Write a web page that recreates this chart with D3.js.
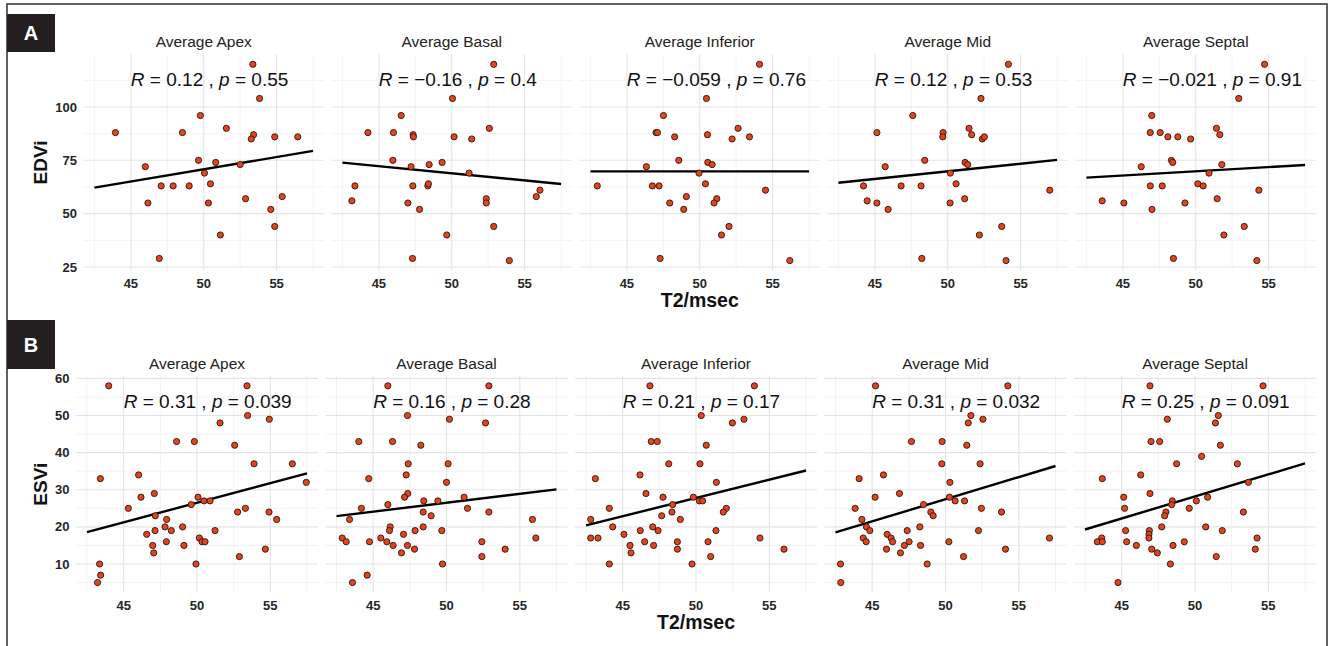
<!DOCTYPE html>
<html>
<head>
<meta charset="utf-8">
<script src="https://cdn.jsdelivr.net/npm/d3@7/dist/d3.min.js"></script>
<style>
  html, body { margin: 0; padding: 0; background: #fff; }
  svg { display: block; font-family: "Liberation Sans", Arial, Helvetica, sans-serif; }
</style>
</head>
<body>
<svg id="chart" width="1332" height="646"></svg>
<script>
// ---------------- data ----------------
const panelNames = ["Average Apex", "Average Basal", "Average Inferior", "Average Mid", "Average Septal"];
const xTicks = [45, 50, 55];
const xMinorTicks = [42.5, 47.5, 52.5, 57.5];
const xLimits = [42.5, 57.5];
const xTitle = "T2/msec";

const edviTicks = [25, 50, 75, 100];
const edviMinorTicks = [37.5, 62.5, 87.5, 112.5];
const edviLimits = [28, 120];
const esviTicks = [10, 20, 30, 40, 50, 60];
const esviMinorTicks = [5, 15, 25, 35, 45, 55];
const esviLimits = [5, 58];

// EDVi vs T2 (row A): [T2, EDVi]
const edviApex = [[53.37,120],[53.83,104],[49.77,96],[51.55,90],[43.94,88],[48.54,88],[53.42,87],[53.26,85],[54.87,86],[56.45,86],[49.64,75],[50.82,74],[45.99,72],[52.5,73],[50.05,69],[50.46,64],[47.08,63],[47.9,63],[49.0,63],[46.17,55],[50.32,55],[52.87,57],[55.38,58],[54.6,52],[54.87,44],[51.14,40],[46.95,29]];
const edviBasal = [[52.88,120],[50.05,104],[46.53,96],[52.58,90],[44.25,88],[46.0,88],[47.35,87],[47.37,86],[50.16,86],[51.37,85],[45.96,75],[47.21,72],[48.45,73],[49.34,74],[51.19,69],[43.36,63],[47.33,63],[48.36,63],[48.4,64],[43.15,56],[46.99,55],[52.37,57],[52.37,55],[47.79,52],[56.05,61],[55.8,58],[52.88,44],[49.66,40],[47.31,29],[53.95,28]];
const edviInferior = [[54.1,120],[50.46,104],[47.51,96],[52.63,90],[47.0,88],[47.1,88],[48.28,86],[50.53,87],[52.22,85],[53.41,86],[48.56,75],[46.34,72],[50.55,74],[50.85,73],[49.95,69],[42.97,63],[46.75,63],[47.21,63],[50.39,64],[54.51,61],[49.08,58],[47.94,55],[51.17,57],[50.98,55],[48.9,52],[52.01,44],[51.49,40],[47.28,29],[56.18,28]];
const edviMid = [[54.16,120],[52.28,104],[47.6,96],[51.46,90],[45.14,88],[49.68,88],[49.66,86],[51.64,87],[52.37,85],[52.51,86],[48.42,75],[45.71,72],[51.19,74],[51.37,73],[50.18,69],[44.22,63],[46.8,63],[48.17,63],[50.57,64],[57.0,61],[44.47,56],[45.14,55],[50.16,55],[51.16,57],[45.91,52],[53.7,44],[52.17,40],[48.22,29],[54.0,28]];
const edviSeptal = [[54.72,120],[52.95,104],[46.98,96],[51.42,90],[46.88,88],[47.56,88],[48.09,86],[48.77,86],[49.65,85],[51.65,87],[48.33,75],[48.42,74],[46.26,72],[51.79,73],[50.91,69],[46.88,63],[47.7,63],[50.14,64],[50.51,63],[54.33,61],[43.58,56],[45.07,55],[49.26,55],[51.47,57],[47.0,52],[53.33,44],[51.93,40],[48.47,29],[54.19,28]];

// ESVi vs T2 (row B): [T2, ESVi]
const esviApex = [[43.98,58],[53.41,58],[53.45,50],[54.93,49],[51.57,48],[48.61,43],[49.82,43],[52.57,42],[53.89,37],[56.5,37],[46.02,34],[43.41,33],[57.45,32],[47.09,29],[46.18,28],[50.07,28],[49.61,26],[50.48,27],[50.89,27],[45.32,25],[52.77,24],[53.3,25],[54.91,24],[47.16,23],[47.93,22],[55.43,22],[47.82,20],[49.02,20],[46.57,18],[47.14,19],[48.25,19],[51.23,19],[46.98,15],[47.91,16],[49.11,15],[50.16,17],[50.34,16],[50.55,16],[47.05,13],[52.89,12],[54.66,14],[49.93,10],[43.36,10],[43.43,7],[43.22,5]];
const esviBasal = [[46.0,58],[52.89,58],[47.34,50],[50.2,49],[52.66,48],[44.02,43],[46.32,43],[48.25,42],[47.39,37],[50.11,37],[47.25,34],[44.7,33],[50.0,32],[47.36,29],[47.14,28],[51.2,28],[46.0,26],[48.45,27],[49.41,27],[44.2,25],[51.43,25],[48.41,24],[52.89,24],[48.95,23],[43.39,22],[55.86,22],[46.16,20],[48.41,20],[46.11,19],[47.86,19],[49.68,19],[47.07,18],[42.89,17],[45.52,17],[56.09,17],[43.16,16],[44.75,16],[45.93,16],[52.41,16],[46.36,15],[47.34,15],[47.82,14],[54.0,14],[46.93,13],[52.41,12],[49.73,10],[44.59,7],[43.59,5]];
const esviInferior = [[46.86,58],[53.98,58],[50.36,50],[53.27,49],[52.48,48],[46.95,43],[47.36,43],[50.7,42],[48.14,37],[50.27,37],[46.18,34],[43.14,33],[51.39,32],[46.59,29],[47.75,28],[49.82,28],[48.41,26],[50.23,27],[50.45,27],[44.09,25],[52.07,25],[48.36,24],[51.86,24],[47.66,23],[42.82,22],[48.93,22],[44.32,20],[47.05,20],[46.2,19],[47.41,19],[51.36,19],[45.09,18],[42.82,17],[43.32,17],[54.36,17],[46.5,16],[48.73,16],[50.82,16],[45.5,15],[47.11,15],[48.73,14],[56.0,14],[45.57,13],[51.0,12],[44.09,10],[49.73,10]];
const esviMid = [[45.23,58],[54.25,58],[51.73,50],[52.55,49],[51.55,48],[47.68,43],[49.77,43],[51.45,42],[49.75,37],[52.36,37],[45.77,34],[44.11,33],[50.3,32],[46.86,29],[45.2,28],[50.27,28],[48.5,26],[50.66,27],[51.3,27],[43.84,25],[52.45,25],[49.0,24],[53.82,24],[49.16,23],[44.3,22],[44.61,20],[48.25,20],[44.84,19],[47.39,19],[52.25,19],[46.02,18],[44.39,17],[46.29,17],[57.09,17],[44.59,16],[46.39,16],[47.52,16],[50.23,16],[47.2,15],[48.3,15],[45.98,14],[54.09,14],[46.93,13],[51.23,12],[42.84,10],[48.75,10],[42.86,5]];
const esviSeptal = [[46.93,58],[54.64,58],[51.59,50],[48.11,49],[51.39,48],[47.0,43],[47.59,43],[51.73,42],[50.45,39],[48.75,37],[52.89,37],[46.3,34],[43.68,33],[53.64,32],[46.93,29],[45.14,28],[50.86,28],[48.45,27],[50.09,27],[48.41,26],[45.2,25],[49.61,25],[48.02,24],[53.3,24],[47.93,23],[47.73,20],[50.73,20],[45.27,19],[46.89,19],[51.86,19],[46.86,18],[43.64,17],[46.86,17],[54.23,17],[43.34,16],[43.68,16],[45.34,16],[49.27,16],[46.0,15],[48.5,15],[47.05,14],[54.11,14],[47.43,13],[51.45,12],[48.32,10],[44.75,5]];

// fitted regression values at xLimits[0] and xLimits[1]
const edviFit = [[62.2, 79.4], [73.9, 63.9], [69.8, 69.8], [64.5, 75.2], [66.9, 72.8]];
const esviFit = [[18.6, 34.4], [22.9, 30.1], [20.4, 35.2], [18.5, 36.4], [19.3, 37.1]];

const edviR = ["0.12", "\u22120.16", "\u22120.059", "0.12", "\u22120.021"];
const edviP = ["0.55", "0.4", "0.76", "0.53", "0.91"];
const esviR = ["0.31", "0.16", "0.21", "0.31", "0.25"];
const esviP = ["0.039", "0.28", "0.17", "0.032", "0.091"];

// ---------------- drawing ----------------
const svg = d3.select("#chart");

function expand(lim, f) {
  const d = (lim[1] - lim[0]) * f;
  return [lim[0] - d, lim[1] + d];
}

// outer frame
svg.append("rect")
  .attr("x", 7).attr("y", 4).attr("width", 1320).attr("height", 700)
  .attr("fill", "none").attr("stroke", "#3a3a3a").attr("stroke-width", 1.6);

function drawRow(cfg) {
  const g = svg.append("g");
  const xDom = expand(xLimits, 0.05);
  const yDom = expand(cfg.yLimits, 0.05);
  const y = d3.scaleLinear().domain(yDom).range([cfg.bottom, cfg.top]);

  cfg.data.forEach((pts, i) => {
    const left = cfg.left0 + i * cfg.step;
    const x = d3.scaleLinear().domain(xDom).range([left, left + cfg.width]);
    const p = g.append("g");

    // minor grid
    p.selectAll(".hminor").data(cfg.yMinor.filter(v => v >= yDom[0] && v <= yDom[1])).join("line")
      .attr("x1", left).attr("x2", left + cfg.width)
      .attr("y1", d => y(d)).attr("y2", d => y(d))
      .attr("stroke", "#f0f0f0").attr("stroke-width", 0.8);
    p.selectAll(".vminor").data(xMinorTicks).join("line")
      .attr("y1", cfg.top).attr("y2", cfg.bottom)
      .attr("x1", d => x(d)).attr("x2", d => x(d))
      .attr("stroke", "#f0f0f0").attr("stroke-width", 0.8);
    // major grid
    p.selectAll(".hmajor").data(cfg.yTicks).join("line")
      .attr("x1", left).attr("x2", left + cfg.width)
      .attr("y1", d => y(d)).attr("y2", d => y(d))
      .attr("stroke", "#e4e4e4").attr("stroke-width", 1.1);
    p.selectAll(".vmajor").data(xTicks).join("line")
      .attr("y1", cfg.top).attr("y2", cfg.bottom)
      .attr("x1", d => x(d)).attr("x2", d => x(d))
      .attr("stroke", "#e4e4e4").attr("stroke-width", 1.1);

    // regression line
    const fit = cfg.fits[i];
    p.append("line")
      .attr("x1", x(xLimits[0])).attr("y1", y(fit[0]))
      .attr("x2", x(xLimits[1])).attr("y2", y(fit[1]))
      .attr("stroke", "#000").attr("stroke-width", 2.4);

    // points
    p.selectAll("circle").data(pts).join("circle")
      .attr("cx", d => x(d[0])).attr("cy", d => y(d[1]))
      .attr("r", 3.1)
      .attr("fill", "#e3441d").attr("stroke", "#2b1610").attr("stroke-width", 0.9);

    // strip title
    p.append("text")
      .attr("x", left + cfg.width / 2).attr("y", cfg.top - 7.5)
      .attr("text-anchor", "middle").attr("font-size", 15.5).attr("fill", "#222")
      .text(panelNames[i]);

    // stat label
    const t = p.append("text")
      .attr("x", x(45)).attr("y", cfg.top + 31.5)
      .attr("font-size", 19).attr("fill", "#111");
    t.append("tspan").attr("font-style", "italic").text("R");
    t.append("tspan").text(" = " + cfg.r[i] + " , ");
    t.append("tspan").attr("font-style", "italic").text("p");
    t.append("tspan").text(" = " + cfg.p[i]);

    // x tick labels
    p.selectAll(".xt").data(xTicks).join("text")
      .attr("x", d => x(d)).attr("y", cfg.bottom + 17.5)
      .attr("text-anchor", "middle").attr("font-size", 13).attr("font-weight", "bold")
      .attr("fill", "#262626").text(d => d);

    // y tick labels on first panel
    if (i === 0) {
      p.selectAll(".yt").data(cfg.yTicks).join("text")
        .attr("x", left - 6.5).attr("y", d => y(d)).attr("dy", "0.35em")
        .attr("text-anchor", "end").attr("font-size", 13).attr("font-weight", "bold")
        .attr("fill", "#262626").text(d => d);
    }
  });

  const rowRight = cfg.left0 + 4 * cfg.step + cfg.width;
  // x title
  g.append("text")
    .attr("x", (cfg.left0 + rowRight) / 2).attr("y", cfg.bottom + 37)
    .attr("text-anchor", "middle").attr("font-size", 19.5).attr("font-weight", "bold")
    .attr("fill", "#111").text(xTitle);
  // y title
  g.append("text")
    .attr("transform", `translate(40,${(cfg.top + cfg.bottom) / 2}) rotate(-90)`)
    .attr("text-anchor", "middle").attr("dy", "0.35em")
    .attr("font-size", 19).attr("font-weight", "bold").attr("fill", "#111")
    .text(cfg.yTitle);

  // row label box
  svg.append("rect")
    .attr("x", 7).attr("y", cfg.box[0]).attr("width", 48).attr("height", cfg.box[1] - cfg.box[0])
    .attr("fill", "#231f20");
  svg.append("text")
    .attr("x", 31).attr("y", (cfg.box[0] + cfg.box[1]) / 2).attr("dy", "0.36em")
    .attr("text-anchor", "middle").attr("font-size", 20).attr("font-weight", "bold")
    .attr("fill", "#fff").text(cfg.label);
}

drawRow({
  label: "A", box: [14, 52],
  top: 54.5, bottom: 270.4, left0: 83.5, step: 248, width: 240.5,
  yLimits: edviLimits, yTicks: edviTicks, yMinor: edviMinorTicks, yTitle: "EDVi",
  data: [edviApex, edviBasal, edviInferior, edviMid, edviSeptal],
  fits: edviFit, r: edviR, p: edviP
});

drawRow({
  label: "B", box: [320, 369],
  top: 376, bottom: 592.4, left0: 76, step: 249.5, width: 242,
  yLimits: esviLimits, yTicks: esviTicks, yMinor: esviMinorTicks, yTitle: "ESVi",
  data: [esviApex, esviBasal, esviInferior, esviMid, esviSeptal],
  fits: esviFit, r: esviR, p: esviP
});
</script>
</body>
</html>
